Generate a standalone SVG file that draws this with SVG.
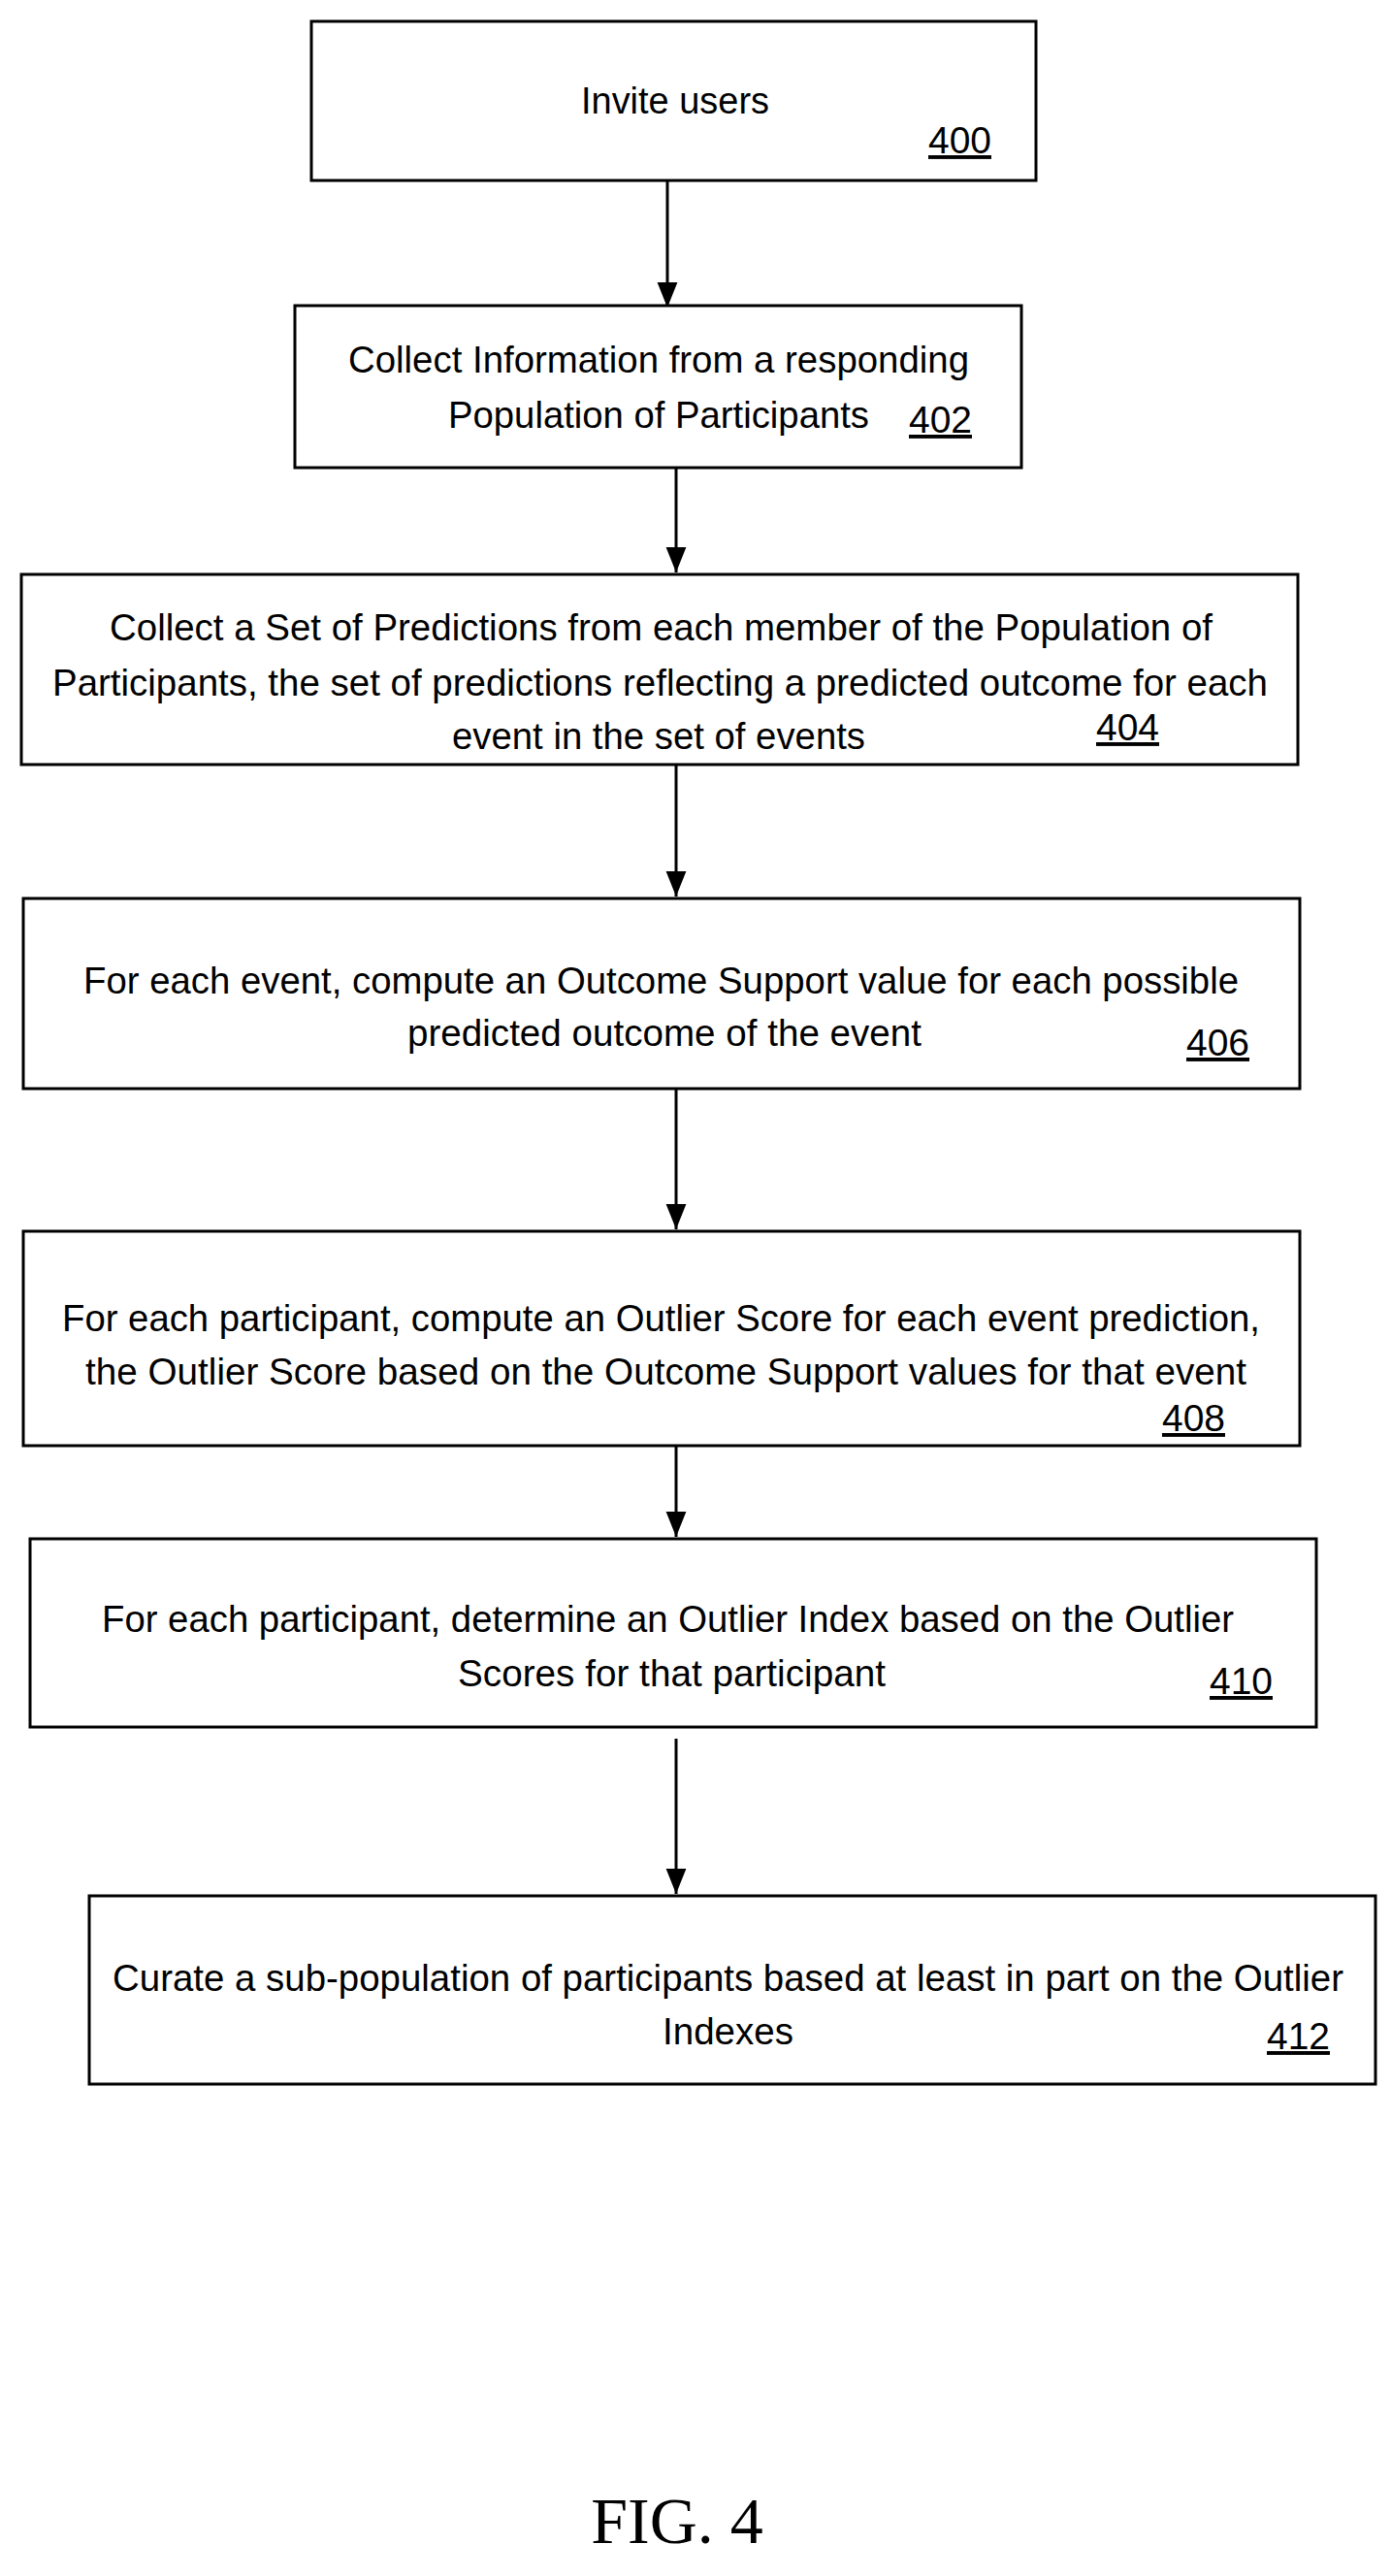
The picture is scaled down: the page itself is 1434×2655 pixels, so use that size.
<svg xmlns="http://www.w3.org/2000/svg" width="1434" height="2655" viewBox="0 0 1434 2655">
<style>
.b{fill:#fff;stroke:#000;stroke-width:3}
.t{font-family:"Liberation Sans",Arial,sans-serif;font-size:39px;fill:#000}
.n{font-family:"Liberation Sans",Arial,sans-serif;font-size:39px;fill:#000;text-decoration:underline}
.c{stroke:#000;stroke-width:3;fill:none;marker-end:url(#a)}
</style>
<defs><marker id="a" markerWidth="10" markerHeight="10" refX="9" refY="5" orient="auto" markerUnits="userSpaceOnUse" viewBox="0 0 10 10"><path d="M0,0L10,5L0,10z" fill="#000" transform="scale(1)"/></marker>
<marker id="m" viewBox="0 0 20 20" refX="20" refY="10" markerWidth="26" markerHeight="26" orient="auto" markerUnits="userSpaceOnUse"><path d="M0,2L20,10L0,18z" fill="#000"/></marker></defs>
<rect width="1434" height="2655" fill="#fff"/>
<g id="connectors" stroke="#000" stroke-width="3" marker-end="url(#m)">
<line x1="688" y1="186" x2="688" y2="317"/>
<line x1="697" y1="482" x2="697" y2="590"/>
<line x1="697" y1="788" x2="697" y2="924"/>
<line x1="697" y1="1122" x2="697" y2="1267"/>
<line x1="697" y1="1490" x2="697" y2="1584"/>
<line x1="697" y1="1792" x2="697" y2="1952"/>
</g>
<g id="n400"><rect class="b" x="321" y="22" width="747" height="164"/>
<text class="t" x="599" y="117" textLength="194" lengthAdjust="spacingAndGlyphs">Invite users</text>
<text class="n" x="957" y="158" textLength="65" lengthAdjust="spacingAndGlyphs">400</text></g>
<g id="n402"><rect class="b" x="304" y="315" width="749" height="167"/>
<text class="t" x="359" y="384" textLength="640" lengthAdjust="spacingAndGlyphs">Collect Information from a responding</text>
<text class="t" x="462" y="441" textLength="434" lengthAdjust="spacingAndGlyphs">Population of Participants</text>
<text class="n" x="937" y="446" textLength="65" lengthAdjust="spacingAndGlyphs">402</text></g>
<g id="n404"><rect class="b" x="22" y="592" width="1316" height="196"/>
<text class="t" x="113" y="660" textLength="1137" lengthAdjust="spacingAndGlyphs">Collect a Set of Predictions from each member of the Population of</text>
<text class="t" x="54" y="717" textLength="1253" lengthAdjust="spacingAndGlyphs">Participants, the set of predictions reflecting a predicted outcome for each</text>
<text class="t" x="466" y="772" textLength="426" lengthAdjust="spacingAndGlyphs">event in the set of events</text>
<text class="n" x="1130" y="763" textLength="65" lengthAdjust="spacingAndGlyphs">404</text></g>
<g id="n406"><rect class="b" x="24" y="926" width="1316" height="196"/>
<text class="t" x="86" y="1024" textLength="1191" lengthAdjust="spacingAndGlyphs">For each event, compute an Outcome Support value for each possible</text>
<text class="t" x="420" y="1078" textLength="530" lengthAdjust="spacingAndGlyphs">predicted outcome of the event</text>
<text class="n" x="1223" y="1088" textLength="65" lengthAdjust="spacingAndGlyphs">406</text></g>
<g id="n408"><rect class="b" x="24" y="1269" width="1316" height="221"/>
<text class="t" x="64" y="1372" textLength="1235" lengthAdjust="spacingAndGlyphs">For each participant, compute an Outlier Score for each event prediction,</text>
<text class="t" x="88" y="1427" textLength="1197" lengthAdjust="spacingAndGlyphs">the Outlier Score based on the Outcome Support values for that event</text>
<text class="n" x="1198" y="1475" textLength="65" lengthAdjust="spacingAndGlyphs">408</text></g>
<g id="n410"><rect class="b" x="31" y="1586" width="1326" height="194"/>
<text class="t" x="105" y="1682" textLength="1167" lengthAdjust="spacingAndGlyphs">For each participant, determine an Outlier Index based on the Outlier</text>
<text class="t" x="472" y="1738" textLength="441" lengthAdjust="spacingAndGlyphs">Scores for that participant</text>
<text class="n" x="1247" y="1746" textLength="65" lengthAdjust="spacingAndGlyphs">410</text></g>
<g id="n412"><rect class="b" x="92" y="1954" width="1326" height="194"/>
<text class="t" x="116" y="2052" textLength="1269" lengthAdjust="spacingAndGlyphs">Curate a sub-population of participants based at least in part on the Outlier</text>
<text class="t" x="683" y="2107" textLength="135" lengthAdjust="spacingAndGlyphs">Indexes</text>
<text class="n" x="1306" y="2112" textLength="65" lengthAdjust="spacingAndGlyphs">412</text></g>
<text x="698" y="2621" text-anchor="middle" font-family="'Liberation Serif','Times New Roman',serif" font-size="68">FIG. 4</text>
</svg>
